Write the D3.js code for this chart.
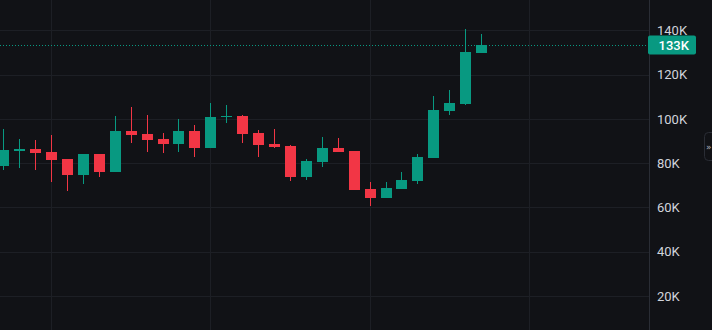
<!DOCTYPE html>
<html><head><meta charset="utf-8">
<script src="https://cdn.jsdelivr.net/npm/d3@7"></script>
<style>html,body{margin:0;padding:0;background:#111216;overflow:hidden}svg{display:block}</style>
</head><body><svg id="c" width="712" height="330"></svg>
<script>
const openV  = [78.7,85.5,86.4,85.0,81.9,74.6,84.1,76.0,94.5,93.2,90.9,88.6,94.5,86.8,101.0,101.3,93.6,88.6,87.7,73.7,80.5,86.8,85.5,68.3,64.3,68.3,72.0,82.3,103.6,106.7,129.7];
const highV  = [95.4,90.9,90.4,92.7,81.9,84.1,84.1,101.3,105.4,101.7,93.6,100.0,97.2,107.2,106.3,101.7,95.0,95.4,88.2,81.9,91.8,91.4,85.5,71.5,71.5,76.0,84.1,110.3,113.0,140.6,138.3];
const lowV   = [77.0,77.8,77.0,71.5,67.4,70.6,73.7,76.0,89.1,85.0,84.6,85.0,82.8,86.8,98.1,89.1,82.8,86.8,72.0,72.4,78.3,85.0,67.9,60.6,64.3,68.3,70.6,82.3,101.7,106.3,129.7];
const closeV = [85.9,86.4,84.6,81.4,74.6,84.1,76.0,94.5,92.7,90.5,88.6,94.5,86.8,100.8,101.3,93.2,88.2,87.3,73.7,81.0,86.8,85.0,67.9,64.3,68.8,72.4,82.8,104.0,107.2,130.2,133.4];
const yTicks = [20,40,60,80,100,120,140];
const xGridIdx = [3,13,23,33];
const lastPrice = 133.3;
const lastLabel = "133K";

const W=712,H=330,axisX=649;
const svg=d3.select("#c");
const x=d3.scaleLinear().domain([3,33]).range([51.5,529.4]);
const y=d3.scaleLinear().domain([20,140]).range([296,30.3]);
const up="#089981", dn="#f23645";

svg.append("rect").attr("width",W).attr("height",H).attr("fill","#111216");
const g=svg.append("g").attr("shape-rendering","crispEdges");
g.selectAll(".hg").data(yTicks).join("line").attr("x1",0).attr("x2",axisX)
 .attr("y1",d=>Math.round(y(d))+0.5).attr("y2",d=>Math.round(y(d))+0.5).attr("stroke","#1d1f25");
g.selectAll(".vg").data(xGridIdx).join("line").attr("y1",0).attr("y2",H)
 .attr("x1",d=>Math.floor(x(d))+0.5).attr("x2",d=>Math.floor(x(d))+0.5).attr("stroke","#1d1f25");

const data=openV.map((o,i)=>({i,o,h:highV[i],l:lowV[i],c:closeV[i]}));
const cg=g.append("g");
cg.selectAll(".w").data(data).join("rect")
 .attr("x",d=>Math.floor(x(d.i))).attr("width",1)
 .attr("y",d=>y(d.h)).attr("height",d=>Math.max(1,y(d.l)-y(d.h)))
 .attr("fill",d=>d.c>=d.o?up:dn);
cg.selectAll(".b").data(data).join("rect")
 .attr("x",d=>Math.floor(x(d.i))-5).attr("width",11)
 .attr("y",d=>y(Math.max(d.o,d.c))).attr("height",d=>Math.max(1.5,Math.abs(y(d.o)-y(d.c))))
 .attr("fill",d=>d.c>=d.o?up:dn);

// last price line
g.append("line").attr("x1",0).attr("x2",axisX).attr("y1",Math.round(y(lastPrice))+0.5).attr("y2",Math.round(y(lastPrice))+0.5)
 .attr("stroke",up).attr("stroke-dasharray","1,2");

// axis panel
svg.append("line").attr("x1",axisX+0.5).attr("x2",axisX+0.5).attr("y1",0).attr("y2",H).attr("stroke","#2a2d35").attr("shape-rendering","crispEdges");
svg.selectAll(".tl").data(yTicks).join("text").attr("x",657).attr("y",d=>y(d)).attr("dy","0.36em")
 .attr("fill","#d1d4dc").attr("font-family","Roboto, 'Liberation Sans', sans-serif").attr("font-size",13).text(d=>d+"K");
svg.append("rect").attr("x",648).attr("y",Math.round(y(lastPrice))-9.5).attr("width",48).attr("height",19).attr("rx",2).attr("fill",up);
svg.append("text").attr("x",658.5).attr("y",y(lastPrice)).attr("dy","0.36em").attr("fill","#ffffff")
 .attr("font-family","Roboto, 'Liberation Sans', sans-serif").attr("font-size",13).attr("font-weight",500).text(lastLabel);
// collapse tab
svg.append("rect").attr("x",704.5).attr("y",132.5).attr("width",14).attr("height",28).attr("rx",4).attr("fill","#111216").attr("stroke","#2a2d35");
svg.append("text").attr("x",706).attr("y",150).attr("fill","#b2b5be").attr("font-family","DejaVu Sans, sans-serif").attr("font-size",9).text("»");
</script></body></html>
